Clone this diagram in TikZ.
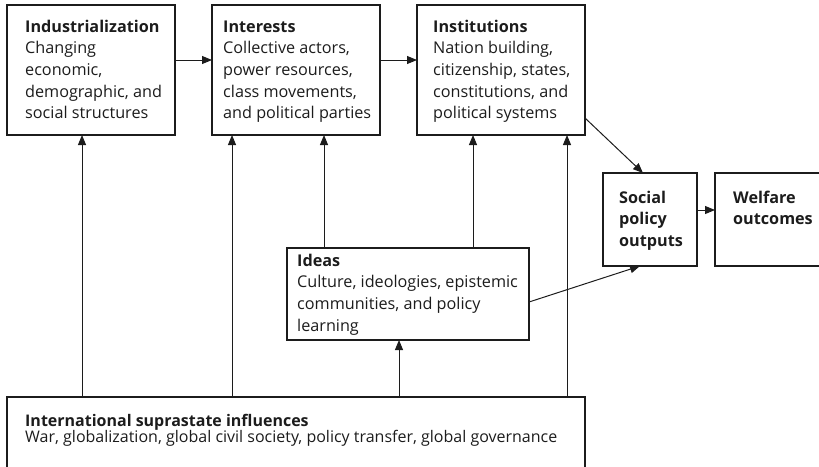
\documentclass[tikz,border=0pt]{standalone}
\usepackage{fontspec}
\setmainfont{Open Sans}
\usetikzlibrary{arrows.meta,calc}
\definecolor{ink}{HTML}{1C1C1C}
\newcommand\boxtext[1]{\begin{tabular}[t]{@{}l@{}}#1\end{tabular}}
\begin{document}
\begin{tikzpicture}[x=1pt,y=-1pt,
  box/.style={draw=ink, line width=1.1pt, anchor=north west, inner sep=0pt, outer sep=0pt},
  txt/.style={anchor=base west, inner sep=0pt, text=ink, font=\fontsize{16.2}{21.7}\selectfont},
  smalltxt/.style={anchor=base west, inner sep=0pt, text=ink, font=\fontsize{16}{15.4}\selectfont},
  arr/.style={draw=ink, line width=1pt, -{Triangle[length=10pt,width=8pt]}}]
\useasboundingbox (0,0) rectangle (819,466);
% boxes
\node[box, minimum width=168pt, minimum height=130pt] (ind) at (7,5) {};
\node[box, minimum width=168pt, minimum height=130pt] (int) at (212,5) {};
\node[box, minimum width=168pt, minimum height=130pt] (ins) at (417,5) {};
\node[box, minimum width=94pt, minimum height=93pt] (soc) at (603,173) {};
\node[box, minimum width=120pt, minimum height=93pt] (wel) at (715,173) {};
\node[box, minimum width=242pt, minimum height=92pt] (ide) at (287,248) {};
\node[box, minimum width=578pt, minimum height=90pt] (isi) at (7,397) {};
% texts
\node[txt] (indT) at (25,32) {\boxtext{\textbf{Industrialization}\\Changing\\economic,\\demographic, and\\social structures}};
\node[txt] (intT) at (223,32) {\boxtext{\textbf{Interests}\\Collective actors,\\power resources,\\class movements,\\and political parties}};
\node[txt] (insT) at (433,32) {\boxtext{\textbf{Institutions}\\Nation building,\\citizenship, states,\\constitutions, and\\political systems}};
\node[txt] (socT) at (619,203) {\boxtext{\textbf{Social}\\\textbf{policy}\\\textbf{outputs}}};
\node[txt] (welT) at (733,203) {\boxtext{\textbf{Welfare}\\\textbf{outcomes}}};
\node[txt] (ideT) at (297,266) {\boxtext{\textbf{Ideas}\\Culture, ideologies, epistemic\\communities, and policy\\learning}};
\node[smalltxt] (isiT) at (25,426) {\boxtext{\textbf{International suprastate influences}\\War, globalization, global civil society, policy transfer, global governance}};
% coordinates for vertical connectors
\coordinate (c1) at (82,0);
\coordinate (c2) at (232,0);
\coordinate (c3) at (399,0);
\coordinate (c4) at (567,0);
\coordinate (c5) at (324,0);
\coordinate (c6) at (473,0);
% connectors
\draw[arr] ([yshift=10pt]ind.east) -- ([yshift=10pt]int.west);
\draw[arr] ([yshift=10pt]int.east) -- ([yshift=10pt]ins.west);
\draw[arr] ([yshift=9.5pt]soc.east) -- ([yshift=9.5pt]wel.west);
\draw[arr] (isi.north -| c1) -- (ind.south -| c1);
\draw[arr] (isi.north -| c2) -- (int.south -| c2);
\draw[arr] (isi.north -| c3) -- (ide.south -| c3);
\draw[arr] (isi.north -| c4) -- (ins.south -| c4);
\draw[arr] (ide.north -| c5) -- (int.south -| c5);
\draw[arr] (ide.north -| c6) -- (ins.south -| c6);
\draw[arr] ([yshift=17pt]ins.south east) -- ([xshift=-7pt]soc.north);
\draw[arr] ([yshift=-8pt]ide.east) -- ([xshift=-10pt]soc.south);
\end{tikzpicture}
\end{document}
